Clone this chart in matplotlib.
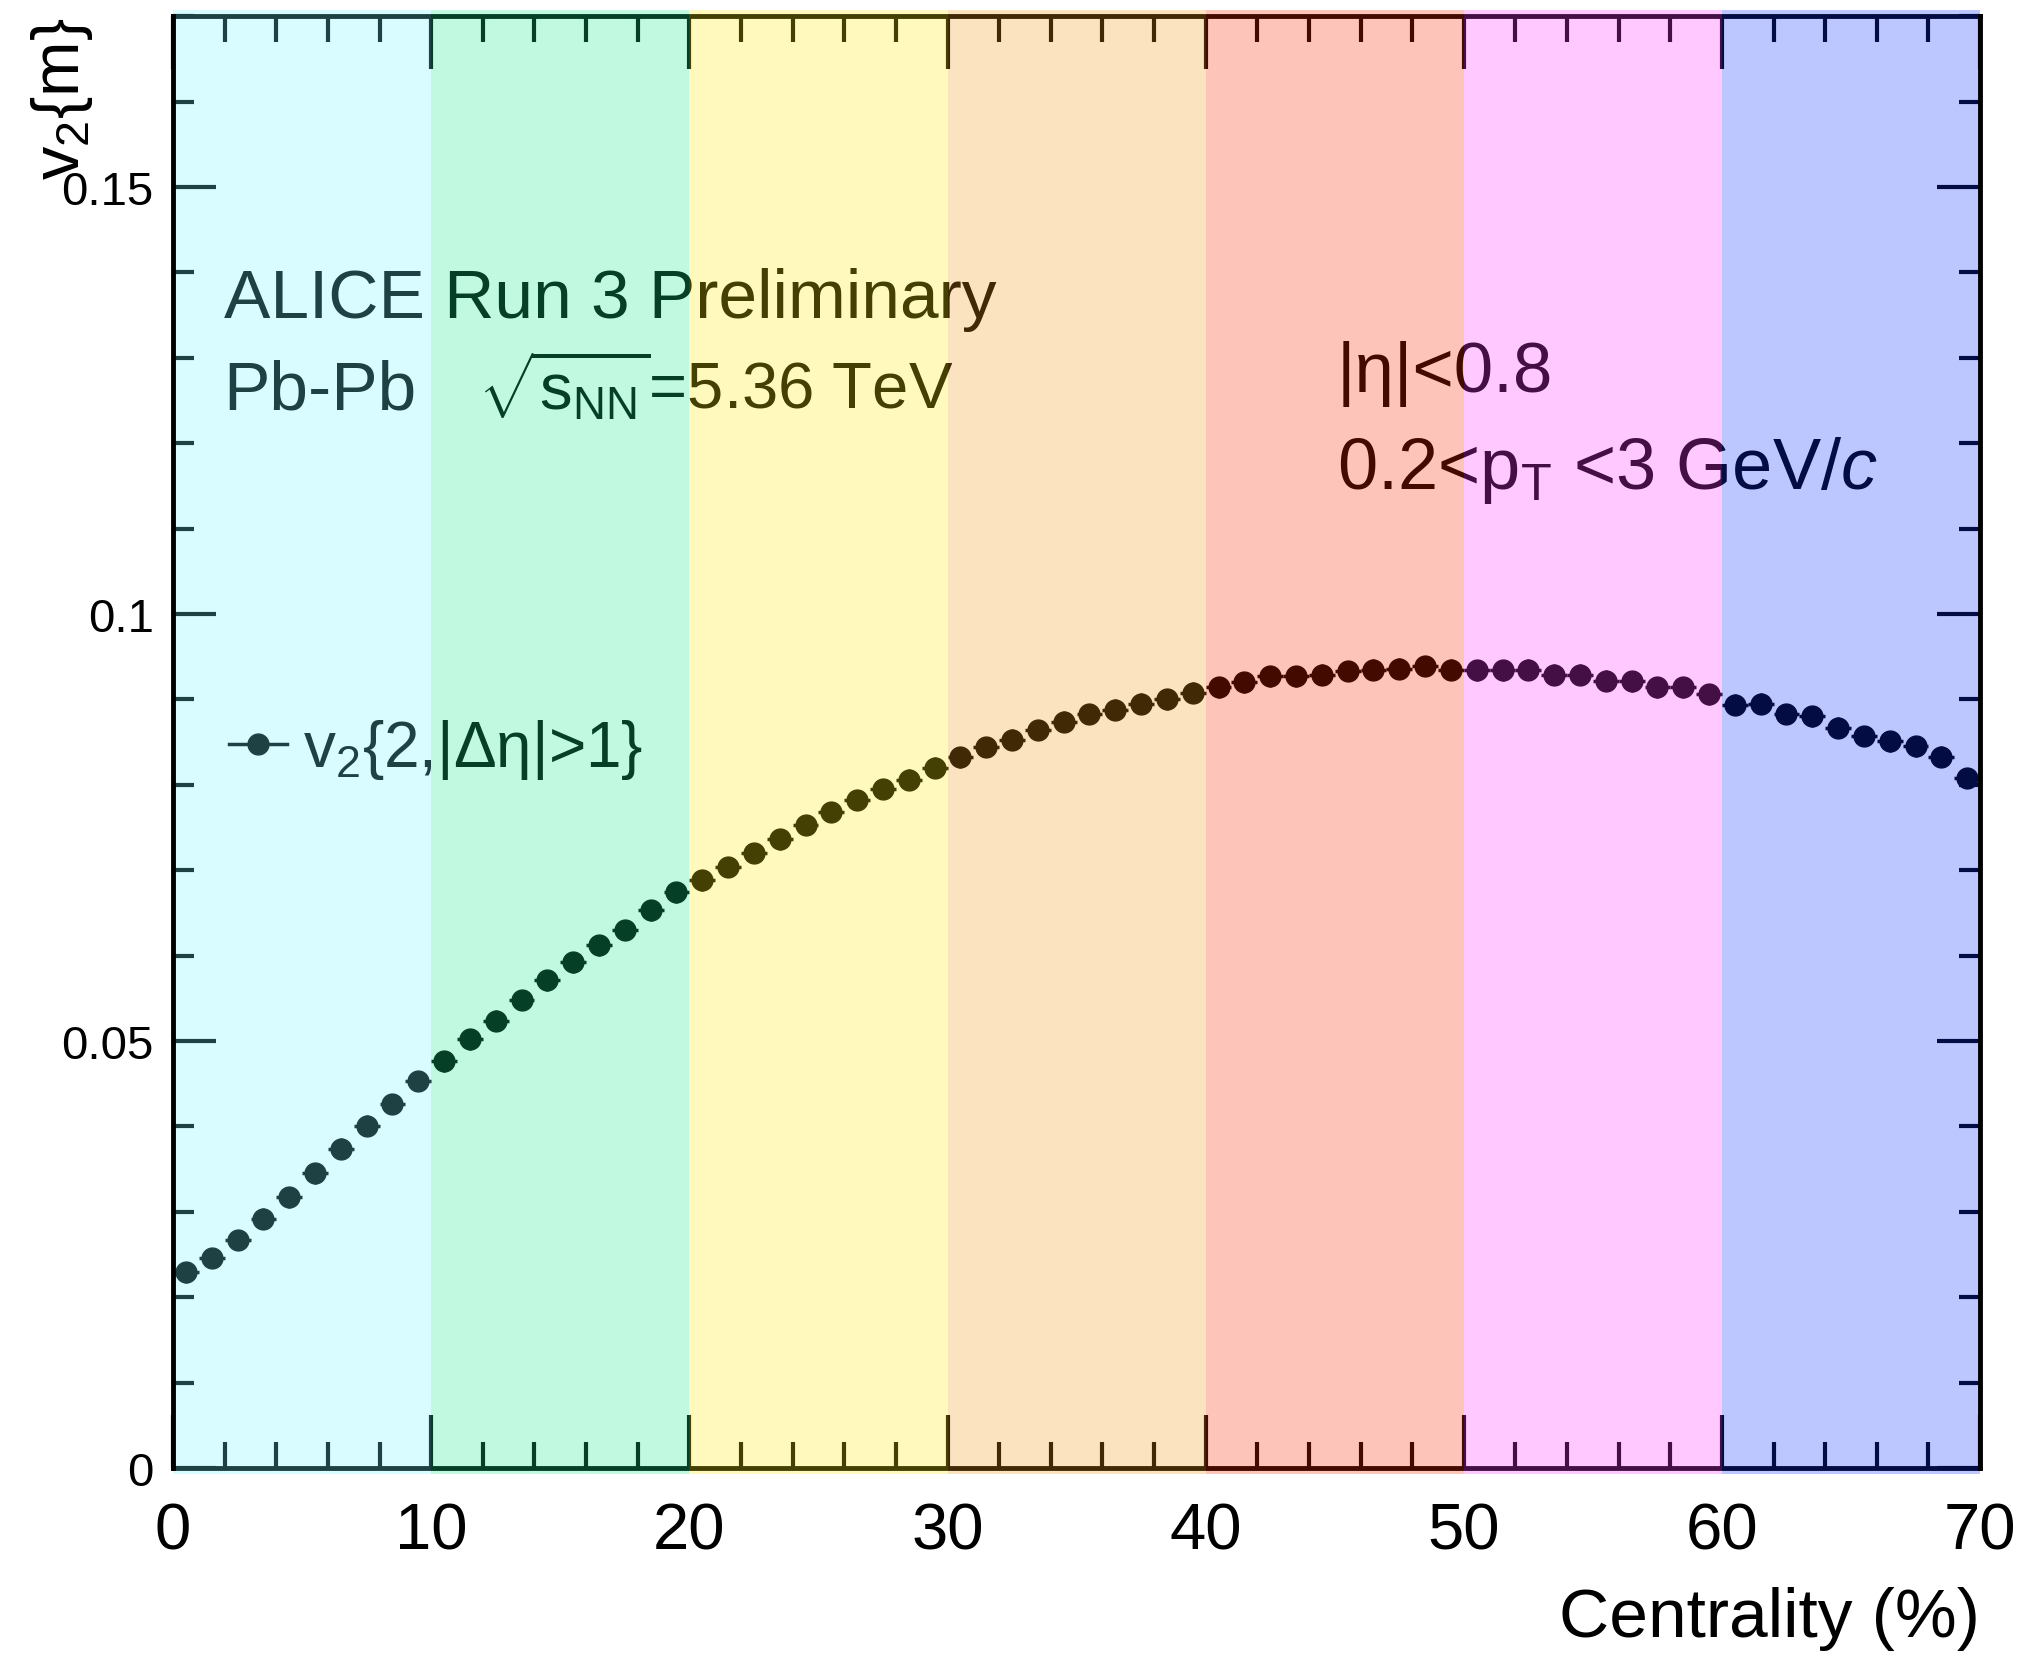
import matplotlib
matplotlib.use("Agg")
import matplotlib.pyplot as plt
from matplotlib.lines import Line2D
import numpy as np

plt.rcParams["font.family"] = ["Liberation Sans", "DejaVu Sans"]
plt.rcParams["mathtext.fontset"] = "custom"
plt.rcParams["mathtext.rm"] = "Liberation Sans"
plt.rcParams["mathtext.it"] = "Liberation Sans:italic"
plt.rcParams["mathtext.bf"] = "Liberation Sans:bold"

# centrality bin centres (1% bins, 0-70%)
centrality = np.arange(0.5, 70, 1.0)

# v2{2,|deta|>1}
v2 = [
    0.0229, 0.0246, 0.0267, 0.0292, 0.0317, 0.0345, 0.0374, 0.0401, 0.0426, 0.0453,
    0.0476, 0.0502, 0.0524, 0.0548, 0.0571, 0.0592, 0.0612, 0.0630, 0.0653, 0.0674,
    0.0688, 0.0704, 0.0720, 0.0736, 0.0753, 0.0768, 0.0782, 0.0795, 0.0806, 0.0820,
    0.0832, 0.0844, 0.0853, 0.0864, 0.0874, 0.0883, 0.0888, 0.0895, 0.0900, 0.0908,
    0.0914, 0.0920, 0.0927, 0.0927, 0.0929, 0.0933, 0.0935, 0.0936, 0.0939, 0.0935,
    0.0934, 0.0934, 0.0935, 0.0929, 0.0929, 0.0922, 0.0921, 0.0914, 0.0914, 0.0906,
    0.0894, 0.0895, 0.0883, 0.0880, 0.0867, 0.0857, 0.0851, 0.0845, 0.0833, 0.0808,
]
stat_err = 0.0012

# coloured centrality bands (overlay colour, drawn semi-transparent on top)
band_edges = [0, 10, 20, 30, 40, 50, 60, 70]
band_colors = ["#72f7ff", "#16ec8c", "#ffec0e", "#f79b16", "#fb2c00", "#ff3aff", "#0e33ff"]
band_alpha = 0.27

fig = plt.figure(figsize=(20.29, 16.58), dpi=100)
ax = fig.add_axes([0.0853, 0.114, 0.8906, 0.8756])

ax.errorbar(centrality, v2, xerr=0.5, yerr=stat_err, fmt="o", color="black",
            ms=15, elinewidth=2.5, capsize=0, zorder=3)

ax.set_xlim(0, 70)
ax.set_ylim(0, 0.17)
ax.set_xticks([0, 10, 20, 30, 40, 50, 60, 70])
ax.set_xticks(np.arange(0, 71, 2), minor=True)
ax.set_yticks([0, 0.05, 0.1, 0.15])
ax.set_yticklabels(["0", "0.05", "0.1", "0.15"])
ax.set_yticks(np.arange(0, 0.171, 0.01), minor=True)

ax.tick_params(axis="both", which="both", direction="in", top=True, right=True,
               width=3, color="black")
ax.tick_params(axis="x", which="major", length=38, labelsize=47, pad=24)
ax.tick_params(axis="x", which="minor", length=19)
ax.tick_params(axis="y", which="major", length=31, labelsize=34, pad=14)
ax.tick_params(axis="y", which="minor", length=15)

for side in ["left", "right", "top", "bottom"]:
    ax.spines[side].set_linewidth(3.5)
ax.spines["left"].set_zorder(12)
ax.spines["right"].set_zorder(12)

ax.set_xlabel("Centrality (%)", fontsize=50, loc="right", labelpad=18)
ax.set_ylabel(r"v$_2${m}", fontsize=48, loc="top")
ax.yaxis.set_label_coords(-0.043, 1.0)

ax.text(0.028, 0.793, "ALICE Run 3 Preliminary", transform=ax.transAxes,
        fontsize=50, va="baseline", ha="left")
ax.text(0.028, 0.730, "Pb-Pb", transform=ax.transAxes,
        fontsize=50, va="baseline", ha="left")
ax.text(0.169, 0.730, r"$\sqrt{\mathrm{s}_{\mathrm{NN}}}$=5.36 TeV", transform=ax.transAxes,
        fontsize=47, va="baseline", ha="left")
ax.text(0.644, 0.742, "|η|<0.8", transform=ax.transAxes,
        fontsize=51, va="baseline", ha="left")
ax.text(0.644, 0.675, r"0.2<p$_{\mathrm{T}}$ <3 GeV/$c$", transform=ax.transAxes,
        fontsize=52, va="baseline", ha="left")

handle = Line2D([], [], color="black", marker="o", ms=15, lw=2.5)
ax.legend(handles=[handle], labels=[r"v$_2${2,|Δη|>1}"], loc="center left",
          bbox_to_anchor=(0.031, 0.495), frameon=False, fontsize=46,
          handlelength=0.9, handletextpad=0.25, borderpad=0, borderaxespad=0)

for lo, hi, col in zip(band_edges[:-1], band_edges[1:], band_colors):
    ax.axvspan(lo, hi, ymin=-0.004, ymax=1.004, color=col, alpha=band_alpha,
               lw=0, zorder=10, clip_on=False)

fig.savefig("out.png", dpi=100)
